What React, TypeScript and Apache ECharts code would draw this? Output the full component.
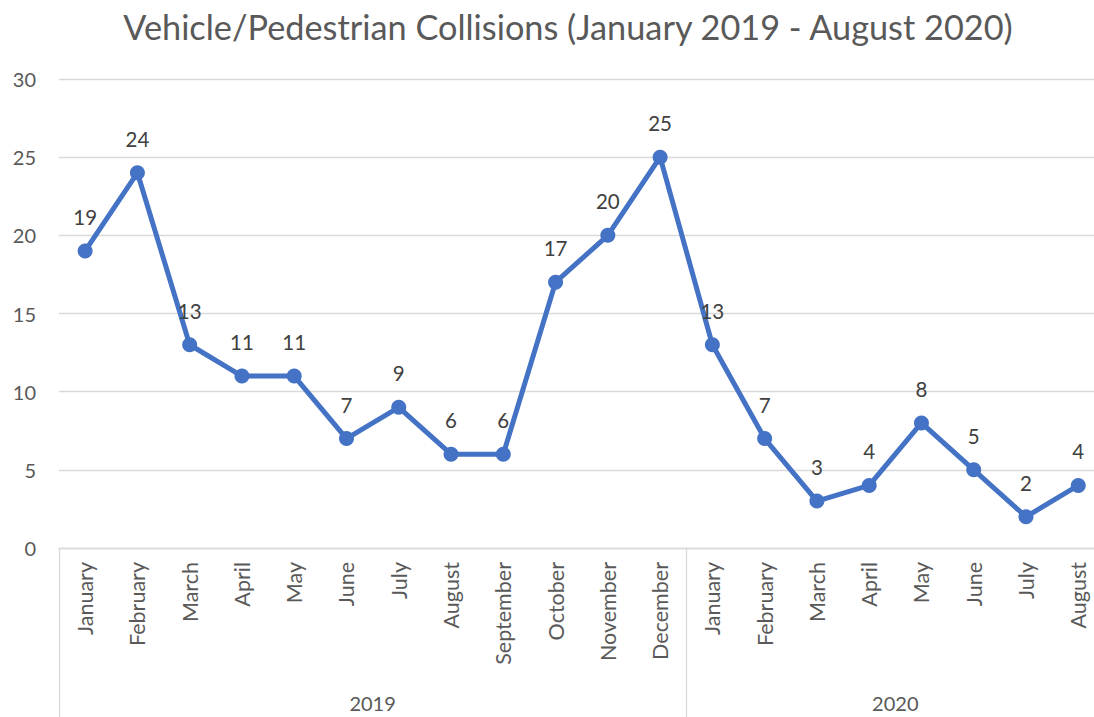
import React, { useEffect, useRef } from "react";
import * as echarts from "echarts";

const months = [
  "January", "February", "March", "April", "May", "June", "July", "August",
  "September", "October", "November", "December",
  "January", "February", "March", "April", "May", "June", "July", "August",
];
const collisions = [19, 24, 13, 11, 11, 7, 9, 6, 6, 17, 20, 25, 13, 7, 3, 4, 8, 5, 2, 4];
const years = ["2019", "2020"];
const yearCenters = [6, 16];
const yearBoundaries = [0, 12];
const yTicks = { min: 0, max: 30, interval: 5 };

const FONT = "Lato, Carlito, Calibri, sans-serif";

export default function App() {
  const ref = useRef<HTMLDivElement>(null);
  useEffect(() => {
    if (!ref.current) return;
    const chart = echarts.init(ref.current, undefined, { renderer: "svg" });
    chart.setOption({
      animation: false,
      textStyle: { fontFamily: FONT },
      title: {
        text: "Vehicle/Pedestrian Collisions (January 2019 - August 2020)",
        left: 563,
        top: 4,
        textAlign: "center",
        textStyle: { fontFamily: FONT, fontSize: 34.3, fontWeight: "normal", color: "#595959" },
      },
      grid: {
        left: 59,
        width: 1045.4,
        top: 79,
        bottom: 169,
        containLabel: false,
        outerBoundsMode: "none",
      },
      xAxis: [
        {
          type: "category",
          data: months,
          boundaryGap: true,
          axisLine: { show: true, lineStyle: { color: "#d9d9d9", width: 1.3 } },
          axisTick: {
            show: true,
            length: 169,
            interval: (i: number) => yearBoundaries.includes(i),
            lineStyle: { color: "#d9d9d9", width: 1.3 },
          },
          axisLabel: {
            rotate: 90,
            margin: 14,
            interval: 0,
            fontSize: 21.5,
            color: "#595959",
            fontFamily: FONT,
          },
        },
        {
          type: "value",
          min: 0,
          max: 20,
          interval: 1,
          position: "bottom",
          axisLine: { show: false },
          axisTick: { show: false },
          splitLine: { show: false },
          axisLabel: {
            margin: 145,
            fontSize: 20,
            color: "#595959",
            fontFamily: FONT,
            formatter: (v: number) => {
              const k = yearCenters.indexOf(v);
              return k >= 0 ? years[k] : "";
            },
          },
        },
      ],
      yAxis: {
        type: "value",
        min: yTicks.min,
        max: yTicks.max,
        interval: yTicks.interval,
        axisLine: { show: false },
        axisTick: { show: false },
        splitLine: { lineStyle: { color: "#d9d9d9", width: 1.3 } },
        axisLabel: { margin: 23, fontSize: 20, color: "#595959", fontFamily: FONT },
      },
      series: [
        {
          type: "line",
          xAxisIndex: 0,
          data: collisions,
          symbol: "circle",
          symbolSize: 15,
          lineStyle: { color: "#4472C4", width: 5 },
          itemStyle: { color: "#4472C4" },
          label: {
            show: true,
            position: "top",
            distance: 16,
            fontSize: 20.5,
            color: "#404040",
            fontFamily: FONT,
          },
        },
      ],
    });
    return () => chart.dispose();
  }, []);
  return (
    <div
      ref={ref}
      style={{ position: "absolute", left: 0, top: 0, width: 1094, height: 717, background: "#fff" }}
    />
  );
}
